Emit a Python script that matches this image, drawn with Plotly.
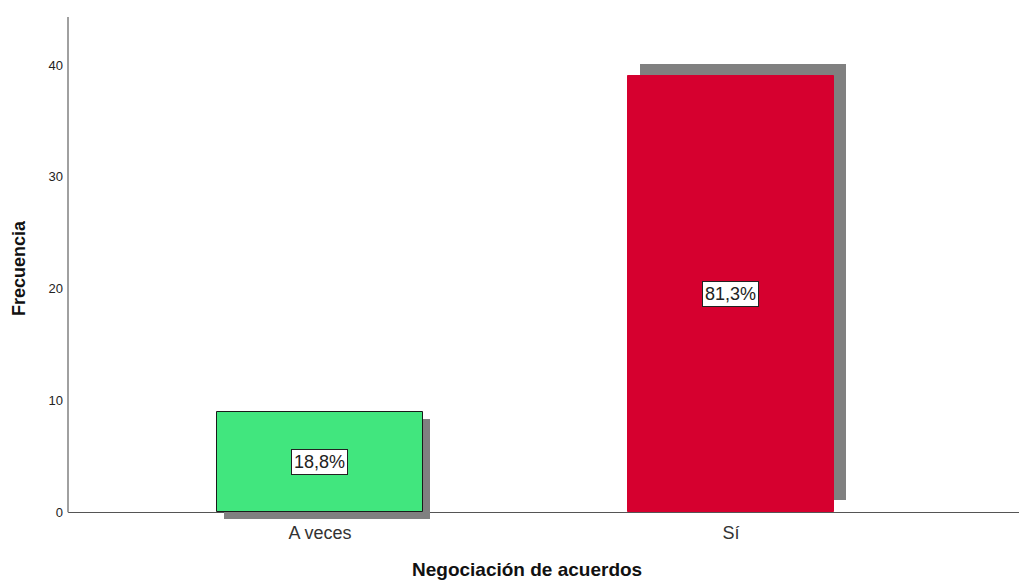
import plotly.graph_objects as go
from decimal import Decimal, ROUND_HALF_UP

# data
categories = ["A veces", "Sí"]
frequencies = [9, 39]
bar_colors = ["#41E67E", "#D6002F"]
y_ticks = [0, 10, 20, 30, 40]

# SPSS-style drop shadow, offsets in pixels (x right, y down)
shadow_dx_px = [7, 12]
shadow_dy_px = [7, -12]

W, H = 1019, 580
margin = dict(l=68, r=0, t=17, b=60)
x_range = [-0.613, 1.701]
y_range = [-0.7, 44.3]

px_per_x = (W - margin["l"] - margin["r"]) / (x_range[1] - x_range[0])
px_per_y = (H - margin["t"] - margin["b"]) / (y_range[1] - y_range[0])

total = sum(frequencies)
bar_width = 0.5
FONT = "Arial, Liberation Sans"

fig = go.Figure()

# shadows first
for i, (cat, v) in enumerate(zip(categories, frequencies)):
    dx = shadow_dx_px[i] / px_per_x
    dy = -shadow_dy_px[i] / px_per_y
    fig.add_trace(go.Bar(
        x=[cat], y=[v], base=[dy],
        width=bar_width, offset=-bar_width / 2 + dx,
        marker=dict(color="#808080", line=dict(width=0)),
        hoverinfo="skip", showlegend=False,
    ))

# the bars
for i, (cat, v) in enumerate(zip(categories, frequencies)):
    fig.add_trace(go.Bar(
        x=[cat], y=[v],
        width=bar_width, offset=-bar_width / 2,
        marker=dict(color=bar_colors[i],
                    line=dict(color="#1a1a1a" if i == 0 else bar_colors[i], width=1)),
        showlegend=False,
    ))

# percentage labels
for cat, v in zip(categories, frequencies):
    p = (Decimal(v) * 100 / Decimal(total)).quantize(Decimal("0.1"), rounding=ROUND_HALF_UP)
    pct = f"{p}%".replace(".", ",")
    fig.add_annotation(
        x=cat, y=v / 2, text=pct, showarrow=False,
        font=dict(family=FONT, size=18, color="#222"),
        bgcolor="white", bordercolor="#222", borderwidth=1, borderpad=2,
    )

# y axis line stops at zero like SPSS
fig.add_shape(type="line", xref="paper", yref="y", x0=0, x1=0, y0=0, y1=y_range[1],
              line=dict(color="#a0a0a0", width=2))

# x axis title
fig.add_annotation(
    xref="paper", yref="paper", x=(527 - margin["l"]) / (W - margin["l"]), y=0,
    yshift=-49, yanchor="middle", showarrow=False,
    text="<b>Negociación de acuerdos</b>",
    font=dict(family=FONT, size=19, color="#111"),
)

fig.update_layout(
    width=W, height=H, margin=margin,
    barmode="overlay", bargap=0,
    plot_bgcolor="white", paper_bgcolor="white",
    font=dict(family=FONT, color="#222"),
    xaxis=dict(range=x_range, showline=False, showgrid=False, zeroline=False,
               automargin=False, ticks="", tickfont=dict(size=18, color="#333")),
    yaxis=dict(range=y_range, tickvals=y_ticks, showline=False, showgrid=False,
               zeroline=True, zerolinecolor="#555", zerolinewidth=1,
               automargin=False, ticks="", ticklabelstandoff=4,
               tickfont=dict(size=13, color="#222"),
               title=dict(text="<b>Frecuencia</b>", font=dict(size=18, color="#111"),
                          standoff=18)),
)

# page body has a default margin; drop it so the figure fills the window
fig.write_html("out.html", config={"displayModeBar": False},
               post_script="document.body.style.margin='0';")
